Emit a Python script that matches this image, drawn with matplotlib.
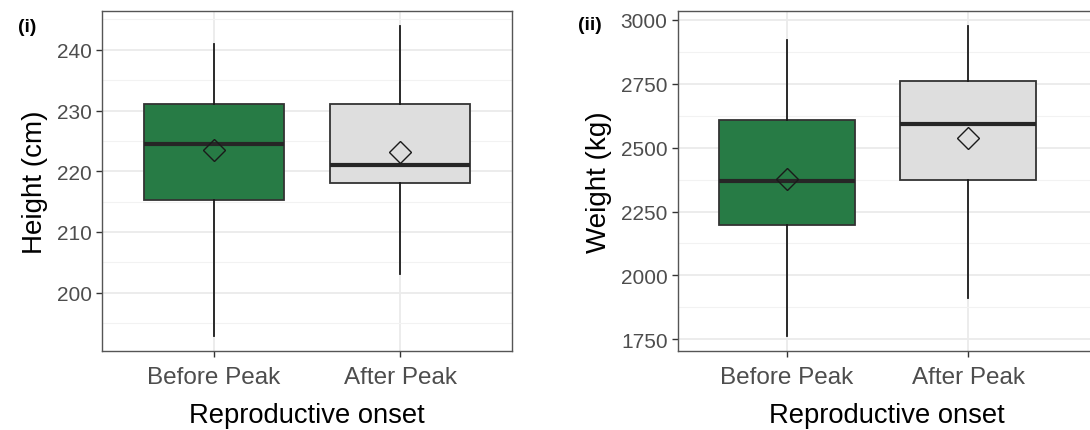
import matplotlib
matplotlib.use("Agg")
import matplotlib.pyplot as plt
from matplotlib.ticker import MultipleLocator

plt.rcParams['font.family'] = ['Liberation Sans', 'DejaVu Sans']

groups = ["Before Peak", "After Peak"]
fills = ["#277b45", "#dedede"]

# height (cm)
h_whislo = [192.9, 203.0]
h_q1 = [215.3, 218.1]
h_med = [224.5, 221.1]
h_q3 = [231.0, 231.0]
h_whishi = [241.0, 244.0]
h_mean = [223.5, 223.2]

# weight (kg)
w_whislo = [1764, 1913]
w_q1 = [2198, 2374]
w_med = [2370, 2591]
w_q3 = [2610, 2759]
w_whishi = [2922, 2978]
w_mean = [2378, 2538]


def box_panel(ax, lo, q1, med, q3, hi, mean, ylabel, ylim, major, minor):
    stats = []
    for i in range(len(groups)):
        stats.append(dict(whislo=lo[i], q1=q1[i], med=med[i], q3=q3[i],
                          whishi=hi[i], fliers=[], label=groups[i]))
    bp = ax.bxp(stats, positions=[1, 2], widths=0.75, patch_artist=True,
                showcaps=False, showfliers=False,
                boxprops=dict(edgecolor="#333333", linewidth=1.3),
                whiskerprops=dict(color="#1a1a1a", linewidth=1.3),
                medianprops=dict(color="#262626", linewidth=3.0),
                zorder=3)
    for patch, c in zip(bp["boxes"], fills):
        patch.set_facecolor(c)
    ax.plot([1, 2], mean, linestyle="none", marker="D", markersize=11,
            markerfacecolor="none", markeredgecolor="#1a1a1a",
            markeredgewidth=1.0, zorder=4)

    ax.set_ylim(*ylim)
    ax.yaxis.set_major_locator(MultipleLocator(major))
    ax.yaxis.set_minor_locator(MultipleLocator(minor))
    ax.grid(which="major", color="#ebebeb", linewidth=1.3, zorder=0)
    ax.grid(which="minor", axis="y", color="#f2f2f2", linewidth=0.8, zorder=0)
    ax.tick_params(which="minor", length=0)
    ax.tick_params(which="major", length=4, color="#333333", width=1.0)
    ax.tick_params(axis="y", labelsize=15, labelcolor="#4d4d4d")
    ax.tick_params(axis="x", labelsize=17.5, labelcolor="#4d4d4d", pad=7)
    ax.set_axisbelow(True)
    for s in ax.spines.values():
        s.set_color("#555555")
        s.set_linewidth(1.0)
    ax.set_ylabel(ylabel, fontsize=20, labelpad=6)
    ax.set_xlabel("Reproductive onset", fontsize=19.7, labelpad=10)


fig = plt.figure(figsize=(10.9, 4.31), dpi=100)
ax1 = fig.add_axes([0.0936, 0.1833, 0.3761, 0.7889])
ax2 = fig.add_axes([0.6220, 0.1833, 0.3826, 0.7889])

box_panel(ax1, h_whislo, h_q1, h_med, h_q3, h_whishi, h_mean,
          "Height (cm)", (190.4, 246.4), 10, 5)
ax1.set_xlim(0.4, 2.6)

box_panel(ax2, w_whislo, w_q1, w_med, w_q3, w_whishi, w_mean,
          "Weight (kg)", (1704, 3035), 250, 125)
ax2.set_xlim(0.4, 2.70)

fig.text(0.0165, 0.937, "(i)", fontsize=14, fontweight="bold", va="center")
fig.text(0.530, 0.941, "(ii)", fontsize=14, fontweight="bold", va="center")

fig.savefig("out.png", dpi=100)
